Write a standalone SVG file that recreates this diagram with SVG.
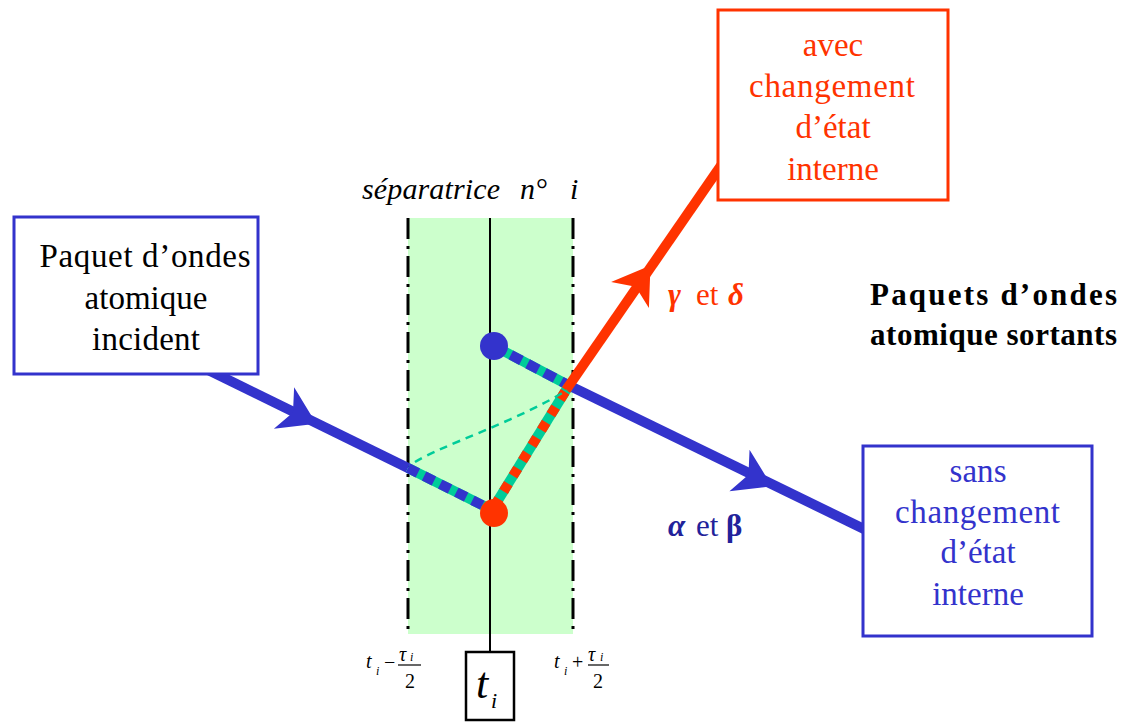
<svg xmlns="http://www.w3.org/2000/svg" width="1136" height="722" viewBox="0 0 1136 722" font-family="'Liberation Serif', 'Times New Roman', serif">
<style>
text{font-family:'Liberation Serif','Times New Roman',serif;}
.box{fill:#fff;stroke-width:3;}
.dd{stroke:#000;stroke-width:3;stroke-dasharray:21 7 3 7;fill:none;}
.lbl{font-size:33px;text-anchor:middle;}
.small{font-size:20px;font-style:italic;}
.sub{font-size:12px;font-style:italic;}
</style>
<defs>
<path id="ah" d="M36,0 L0,-23 L10,0 L0,23 Z"/>
</defs>
<rect x="0" y="0" width="1136" height="722" fill="#fff"/>

<g id="separatrice">
<rect x="408" y="218" width="165" height="416" fill="#ccffcc"/>
<line class="dd" x1="408" y1="218" x2="408" y2="634"/>
<line class="dd" x1="573" y1="218" x2="573" y2="634"/>
<line x1="490" y1="218" x2="490" y2="653" stroke="#000" stroke-width="2"/>
<text x="362" y="199" font-size="30" font-style="italic"><tspan textLength="138" lengthAdjust="spacing">séparatrice</tspan><tspan x="520">n°</tspan><tspan x="570">i</tspan></text>
</g>

<g id="connectors">
<line x1="200" y1="366" x2="408" y2="468" stroke="#3333cc" stroke-width="10"/>
<use href="#ah" fill="#3333cc" transform="translate(284,408) rotate(26.1)"/>
<line x1="408" y1="468" x2="492" y2="510" stroke="#00cc99" stroke-width="10"/>
<line x1="408" y1="468" x2="492" y2="510" stroke="#3333cc" stroke-width="10" stroke-dasharray="11 7"/>
<line x1="494" y1="346" x2="568" y2="385" stroke="#00cc99" stroke-width="10"/>
<line x1="494" y1="346" x2="568" y2="385" stroke="#3333cc" stroke-width="10" stroke-dasharray="12 7"/>
<line x1="568" y1="385" x2="866" y2="530" stroke="#3333cc" stroke-width="10"/>
<use href="#ah" fill="#3333cc" transform="translate(739.5,470.5) rotate(25.9)"/>
<line x1="492" y1="510" x2="568" y2="387" stroke="#00cc99" stroke-width="10"/>
<line x1="492" y1="510" x2="568" y2="387" stroke="#ff3300" stroke-width="10" stroke-dasharray="9 9" stroke-dashoffset="-4"/>
<line x1="566" y1="390" x2="722" y2="164" stroke="#ff3300" stroke-width="10"/>
<use href="#ah" fill="#ff3300" transform="translate(630,295) rotate(-55.3)"/>
<path d="M415,462 C440,446 520,420 567,390" fill="none" stroke="#00cc99" stroke-width="2.5" stroke-dasharray="8 6"/>
</g>

<g id="dot-blue"><circle cx="494" cy="346" r="14" fill="#3333cc"/></g>
<g id="dot-red"><circle cx="494" cy="513" r="14" fill="#ff3300"/></g>

<g id="incident">
<rect class="box" x="14" y="217" width="244" height="157" stroke="#3333cc"/>
<text class="lbl" fill="#000"><tspan x="145" y="267" textLength="211" lengthAdjust="spacing">Paquet d’ondes</tspan><tspan x="146" y="309" textLength="123" lengthAdjust="spacing">atomique</tspan><tspan x="146" y="350" textLength="108" lengthAdjust="spacing">incident</tspan></text>
</g>

<g id="avec">
<rect class="box" x="718" y="10" width="230" height="190" stroke="#ff3300"/>
<text class="lbl" fill="#ff3300"><tspan x="833" y="56">avec</tspan><tspan x="832" y="97" textLength="166" lengthAdjust="spacing">changement</tspan><tspan x="833" y="138">d’état</tspan><tspan x="833" y="180">interne</tspan></text>
</g>

<g id="sans">
<rect class="box" x="863" y="446" width="229" height="190" stroke="#3333cc"/>
<text class="lbl" fill="#3333cc"><tspan x="978" y="482" textLength="57" lengthAdjust="spacing">sans</tspan><tspan x="977.5" y="523" textLength="165" lengthAdjust="spacing">changement</tspan><tspan x="978" y="563">d’état</tspan><tspan x="978" y="605">interne</tspan></text>
</g>

<g id="sortants">
<text font-size="31" font-weight="bold" text-anchor="middle" fill="#000"><tspan x="993.5" y="305" textLength="247" lengthAdjust="spacing">Paquets d’ondes</tspan><tspan x="993.5" y="345" textLength="247" lengthAdjust="spacing">atomique sortants</tspan></text>
</g>

<g id="gamma-delta">
<text y="305" font-size="31" fill="#ff3300"><tspan x="668" font-style="italic" font-weight="bold">γ</tspan><tspan x="696">et</tspan><tspan x="728" font-style="italic" font-weight="bold">δ</tspan></text>
</g>
<g id="alpha-beta">
<text y="536" font-size="31" fill="#22229a"><tspan x="668" font-style="italic" font-weight="bold">α</tspan><tspan x="696">et</tspan><tspan x="726" font-weight="bold">β</tspan></text>
</g>

<g id="ti-box">
<rect x="466" y="652" width="48" height="68" fill="#fff" stroke="#000" stroke-width="2.5"/>
<text x="476" y="698" font-size="44" font-style="italic">t</text>
<text x="491" y="708" font-size="22" font-style="italic">i</text>
</g>

<g id="t-minus">
<text class="small" x="366" y="668">t</text>
<text class="sub" x="376" y="675">i</text>
<text x="384" y="669" font-size="20">−</text>
<text class="small" x="399" y="661">τ</text>
<text class="sub" x="410" y="661">i</text>
<line x1="398" y1="665" x2="421" y2="665" stroke="#000" stroke-width="1.2"/>
<text x="405" y="688" font-size="20">2</text>
</g>
<g id="t-plus">
<text class="small" x="554" y="668">t</text>
<text class="sub" x="564" y="675">i</text>
<text x="572" y="669" font-size="20">+</text>
<text class="small" x="588" y="661">τ</text>
<text class="sub" x="600" y="661">i</text>
<line x1="588" y1="665" x2="609" y2="665" stroke="#000" stroke-width="1.2"/>
<text x="593" y="688" font-size="20">2</text>
</g>
</svg>
